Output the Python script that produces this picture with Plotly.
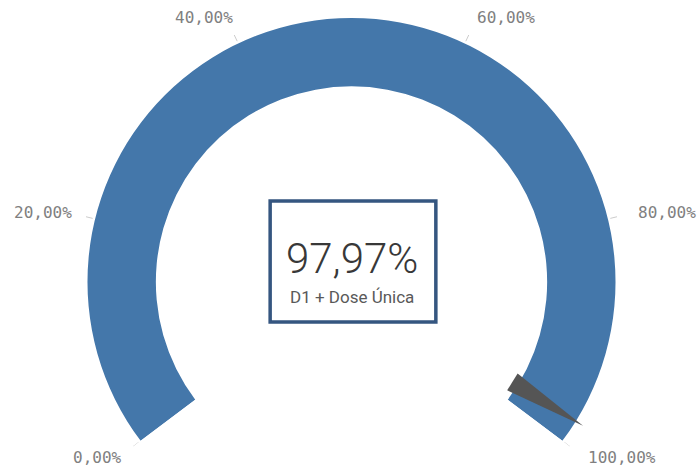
import math
import plotly.graph_objects as go

# ---- data ----
gauge_min = 0.0
gauge_max = 100.0
value = 97.97
tick_values = [0, 20, 40, 60, 80, 100]
tick_labels = ["0,00%", "20,00%", "40,00%", "60,00%", "80,00%", "100,00%"]
measure_label = "D1 + Dose Única"

# ---- layout constants ----
W, H = 700, 474
ARC_DEG = 254.0                              # angular span of the gauge
HALF_GAP = 90 - (360 - ARC_DEG) / 2          # degrees below horizontal at each end
ROT = 180 + HALF_GAP - 360                   # start angle (kept within [-180,180])
R_PX = 274.0
CX, CY = 351.5, 282.0
bbox_h = R_PX * (1 + math.sin(math.radians(HALF_GAP)))
ml = CX - R_PX
mr = W - (CX + R_PX)
mt = CY - R_PX
mb = H - (mt + bbox_h)

def to_deg(v):
    return (v - gauge_min) / (gauge_max - gauge_min) * ARC_DEG

band_in, band_out = 196 / R_PX, 264.5 / R_PX
needle_base, needle_tip = 190 / R_PX, 273 / R_PX
needle_half = 1.18  # gauge units
tick_in = 267 / R_PX

fig = go.Figure()
fig.add_trace(go.Barpolar(
    r=[band_out - band_in], base=[band_in],
    theta=[to_deg((gauge_min + gauge_max) / 2)],
    width=[to_deg(gauge_max) - to_deg(gauge_min)],
    marker=dict(color="#4477aa", line=dict(width=0)),
    hoverinfo="skip", showlegend=False,
))
fig.add_trace(go.Scatterpolar(
    r=[needle_base, needle_tip, needle_base, needle_base],
    theta=[to_deg(value - needle_half), to_deg(value), to_deg(value + needle_half), to_deg(value - needle_half)],
    mode="lines", fill="toself", fillcolor="#555555",
    line=dict(width=0, color="#555555"),
    hoverinfo="skip", showlegend=False,
))
# small tick marks just outside the band
tick_r, tick_theta = [], []
for t in tick_values:
    tick_r += [tick_in, 1.0, None]
    tick_theta += [to_deg(t), to_deg(t), None]
fig.add_trace(go.Scatterpolar(
    r=tick_r, theta=tick_theta, mode="lines",
    line=dict(color="#cccccc", width=1),
    hoverinfo="skip", showlegend=False,
))

fig.update_layout(
    width=W, height=H,
    margin=dict(l=ml, r=mr, t=mt, b=mb, pad=0),
    paper_bgcolor="white",
    polar=dict(
        bgcolor="white",
        sector=[ROT - ARC_DEG, ROT],
        domain=dict(x=[0, 1], y=[0, 1]),
        radialaxis=dict(visible=False, range=[0, 1]),
        angularaxis=dict(
            thetaunit="degrees", direction="clockwise", rotation=ROT,
            tickmode="array", tickvals=[to_deg(t) for t in tick_values],
            showticklabels=False, ticks="",
            showgrid=False, showline=False,
        ),
    ),
)

pw, ph = W - ml - mr, H - mt - mb
def px(x):
    return (x - ml) / pw
def py(y):
    return 1 - (y - mt) / ph

# gauge scale labels placed around the arc
LABEL_CX = 355.0
for t, lab in zip(tick_values, tick_labels):
    phi = math.radians(ROT - to_deg(t))
    s, c = math.sin(phi), math.cos(phi)
    top = s > 0.5
    r = 286.0 if top else 292.0
    X = LABEL_CX + r * c
    Y = CY - r * s
    fig.add_annotation(
        x=px(X), y=py(Y), xref="paper", yref="paper", text=lab, showarrow=False,
        xanchor="right" if c < 0 else "left", yanchor="bottom" if top else "middle",
        xshift=2 if c < 0 else -2, yshift=-5 if top else 0,
        font=dict(family="DejaVu Sans Mono", size=16, color="#808080"),
    )

fig.add_shape(type="rect", xref="paper", yref="paper",
              x0=px(270), x1=px(436), y0=py(201), y1=py(322),
              line=dict(color="#355680", width=3.5), fillcolor="white", layer="above")

value_text = f"{value:.2f}".replace(".", ",") + "%"
fig.add_annotation(x=px(352), y=py(258), xref="paper", yref="paper", text=value_text,
                   showarrow=False, font=dict(family="Roboto", size=42, color="#383838", weight=300),
                   xanchor="center", yanchor="middle")
fig.add_annotation(x=px(352), y=py(297), xref="paper", yref="paper", text=measure_label,
                   showarrow=False, font=dict(family="Roboto", size=17, color="#595959"),
                   xanchor="center", yanchor="middle")

fig.write_html("out.html", config={"displayModeBar": False},
               post_script="document.body.style.margin='0px';")
